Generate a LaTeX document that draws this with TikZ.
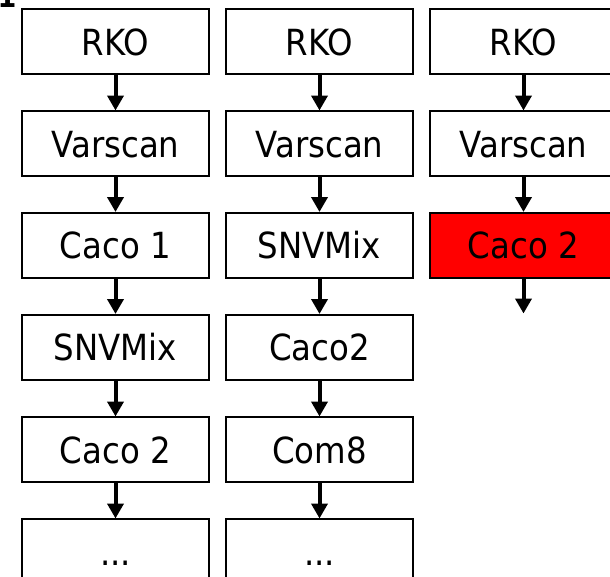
\documentclass[tikz,border=0pt]{standalone}
\usepackage{fontspec}
\setmainfont{DejaVu Sans}[FakeStretch=0.9]
\usetikzlibrary{arrows.meta}
\definecolor{hot}{RGB}{255,0,0}
\tikzset{
  box/.style={draw=black, line width=2pt, fill=white, minimum width=187pt, minimum height=65pt, inner sep=0pt, text height=27pt, text depth=0pt, font=\fontsize{36}{43}\selectfont},
  hotbox/.style={box, fill=hot},
  flow/.style={line width=4pt, -{Triangle[width=16pt,length=15pt]}, shorten >=-0.5pt}
}
\begin{document}
\begin{tikzpicture}[x=1pt,y=-1pt]
\useasboundingbox (0,0) rectangle (610,576);
\node[font=\bfseries\fontsize{30}{36}\selectfont, anchor=base] (one) at (7,7) {1};
% column 1
\node[box] (a1) at (115.5,41.5) {RKO};
\node[box] (a2) at (115.5,143.5) {Varscan};
\node[box] (a3) at (115.5,245) {Caco 1};
\node[box] (a4) at (115.5,347) {SNVMix};
\node[box] (a5) at (115.5,449.5) {Caco 2};
\node[box] (a6) at (115.5,551.5) {...};
% column 2
\node[box] (b1) at (319.5,41.5) {RKO};
\node[box] (b2) at (319.5,143.5) {Varscan};
\node[box] (b3) at (319.5,245) {SNVMix};
\node[box] (b4) at (319.5,347) {Caco2};
\node[box] (b5) at (319.5,449.5) {Com8};
\node[box] (b6) at (319.5,551.5) {...};
% column 3
\node[box] (c1) at (523.5,41.5) {RKO};
\node[box] (c2) at (523.5,143.5) {Varscan};
\node[hotbox] (c3) at (523.5,245) {Caco 2};
\coordinate (cend) at (523.5,313);
% arrows
\foreach \c in {a,b}{
  \draw[flow] (\c1) -- (\c2);
  \draw[flow] (\c2) -- (\c3);
  \draw[flow] (\c3) -- (\c4);
  \draw[flow] (\c4) -- (\c5);
  \draw[flow] (\c5) -- (\c6);
}
\draw[flow] (c1) -- (c2);
\draw[flow] (c2) -- (c3);
\draw[flow] (c3) -- (cend);
\end{tikzpicture}
\end{document}
